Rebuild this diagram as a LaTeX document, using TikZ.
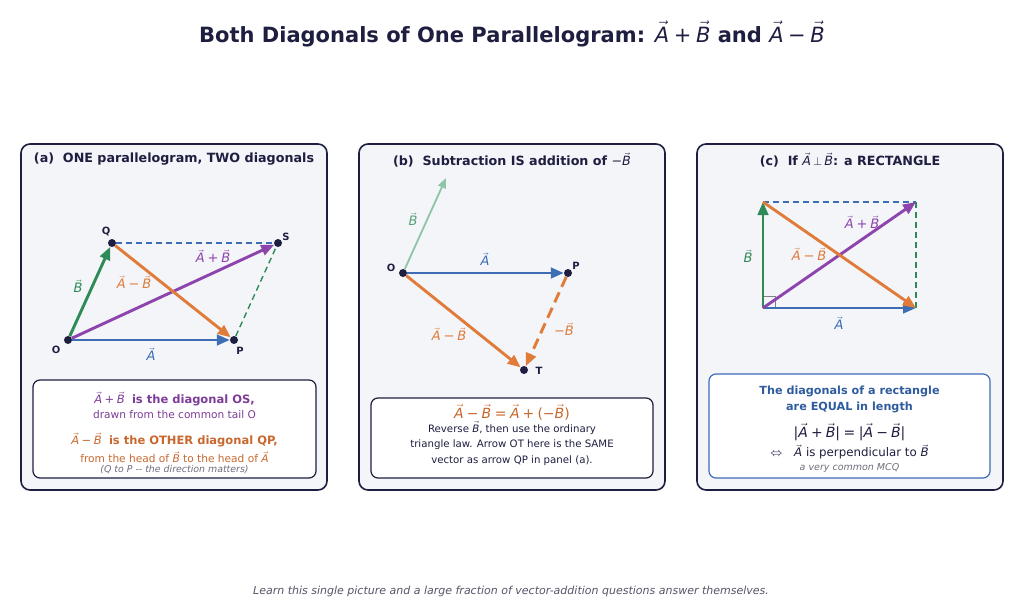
\documentclass[tikz,border=0pt]{standalone}
\usepackage{fontspec}
\setmainfont{DejaVu Sans}
\usetikzlibrary{arrows.meta}
\definecolor{navy}{HTML}{1E1E40}
\definecolor{vblue}{HTML}{3D6DB5}
\definecolor{vgreen}{HTML}{2E8B57}
\definecolor{lgreen}{HTML}{8FC4A6}
\definecolor{vpurple}{HTML}{8E44AD}
\definecolor{vorange}{HTML}{E07B39}
\definecolor{torange}{HTML}{C8682E}
\definecolor{tpurple}{HTML}{7D3C98}
\definecolor{tblue}{HTML}{2F5C9E}
\definecolor{panelbg}{HTML}{F3F5F9}
\definecolor{greytext}{HTML}{6E6E7E}
\definecolor{footgrey}{HTML}{55556A}
\newcommand{\VA}{\ensuremath{\vec{\mbox{\mdseries\itshape A}}}}
\newcommand{\VB}{\ensuremath{\vec{\mbox{\mdseries\itshape B}}}}
\newcommand{\pl}{\mbox{\mdseries\hspace{0.22em}+\hspace{0.22em}}}
\newcommand{\mi}{\mbox{\mdseries\hspace{0.22em}−\hspace{0.22em}}}
\newcommand{\eqs}{\mbox{\mdseries\hspace{0.25em}=\hspace{0.25em}}}
\newcommand{\fs}[1]{\fontsize{#1}{#1}\selectfont}
\tikzset{
  panel/.style={draw=navy, line width=1.6pt, rounded corners=9pt, fill=panelbg},
  infobox/.style={draw=navy, line width=1.2pt, rounded corners=7pt, fill=white},
  vecline/.style={line width=2.9pt, -{Triangle[length=13pt,width=10.5pt]}},
  thinvec/.style={line width=1.8pt, -{Triangle[length=10pt,width=8pt]}},
  dashline/.style={line width=1.4pt, dash pattern=on 6pt off 4pt},
  dot/.style={circle, fill=navy, inner sep=0pt, minimum size=8pt},
  ptlabel/.style={font=\bfseries\fs{10}, text=navy, inner sep=0pt},
  vlabel/.style={font=\fs{13}, inner sep=0pt},
  ptitle/.style={font=\bfseries\fs{12.7}, text=navy},
  boxtext/.style={align=center, inner sep=0pt},
}
\begin{document}
\begin{tikzpicture}[x=1pt,y=-1pt]
\useasboundingbox[fill=white] (0,0) rectangle (1024,615);
% title
\node[font=\bfseries\fs{21}, text=navy] (title) at (512,34) {Both Diagonals of One Parallelogram: \VA\pl\VB\ and \VA\mi\VB};
% panels
\draw[panel] (21,144) rectangle (327,490);
\draw[panel] (359,144) rectangle (665,490);
\draw[panel] (697,144) rectangle (1003,490);
\node[ptitle] (ta) at (174,159) {(a)\ \ ONE parallelogram, TWO diagonals};
\node[ptitle] (tb) at (512,160) {(b)\ \ Subtraction IS addition of \mbox{\mdseries−}\VB};
\node[ptitle] (tc) at (850,160) {(c)\ \ If \VA$\,\perp\,$\VB: a RECTANGLE};

% ---------- panel (a)
\node[dot] (aO) at (68,340) {};
\node[dot] (aP) at (234,340) {};
\node[dot] (aQ) at (112,243) {};
\node[dot] (aS) at (278,243) {};
\draw[dashline, vblue] (aQ) -- (aS);
\draw[dashline, vgreen] (aP) -- (aS);
\draw[vecline, vblue] (aO) -- (aP);
\draw[vecline, vgreen] (aO) -- (aQ);
\draw[vecline, vpurple] (aO) -- (aS);
\draw[vecline, vorange] (aQ) -- (aP);
\node[ptlabel] (laQ) at (106,232) {Q};
\node[ptlabel] (laS) at (286,237) {S};
\node[ptlabel] (laO) at (56,350) {O};
\node[ptlabel] (laP) at (240,351) {P};
\node[vlabel, text=vgreen] (abl) at (78,286) {\VB};
\node[vlabel, text=vorange] (aaml) at (134,282) {\VA\mi\VB};
\node[vlabel, text=vpurple] (aapl) at (213,256) {\VA\pl\VB};
\node[vlabel, text=vblue] (aal) at (151,354) {\VA};
\draw[infobox] (33,380) rectangle (316,478);
\node[boxtext, text=tpurple, font=\fs{11.5}] (a1) at (174.5,399) {\VA\pl\VB\ \ \textbf{is the diagonal OS,}};
\node[boxtext, text=tpurple, font=\fs{10.6}] (a2) at (174.5,415) {drawn from the common tail O};
\node[boxtext, text=torange, font=\fs{11.5}] (a3) at (174.5,440) {\VA\mi\VB\ \ \textbf{is the OTHER diagonal QP,}};
\node[boxtext, text=torange, font=\fs{10.6}] (a4) at (174.5,457) {from the head of \VB\ to the head of \VA};
\node[boxtext, text=greytext, font=\itshape\fs{9.4}] (a5) at (174.5,470) {(Q to P -{}- the direction matters)};

% ---------- panel (b)
\node[dot] (bO) at (403,273) {};
\node[dot] (bP) at (568,273) {};
\node[dot] (bT) at (524,370) {};
\coordinate (bBend) at (446,178);
\draw[thinvec, lgreen] (bO) -- (bBend);
\draw[vecline, vblue] (bO) -- (bP);
\draw[vecline, vorange] (bO) -- (bT);
\draw[vecline, vorange, dash pattern=on 11pt off 6pt] (bP) -- (bT);
\node[ptlabel] (lbO) at (391,268) {O};
\node[ptlabel] (lbP) at (576,266) {P};
\node[ptlabel] (lbT) at (539,371) {T};
\node[vlabel, text=vgreen!80!white] (bbl) at (413,219) {\VB};
\node[vlabel, text=vblue] (bal) at (485,259) {\VA};
\node[vlabel, text=vorange] (baml) at (449,334) {\VA\mi\VB};
\node[vlabel, text=vorange] (bnbl) at (564,329) {−\VB};
\draw[infobox] (371,398) rectangle (653,478);
\node[boxtext, text=torange, font=\fs{14}] (b1) at (512,412) {\VA\mi\VB\eqs\VA\pl(−\VB)};
\node[boxtext, text=navy, font=\fs{10.2}] (b2) at (512,428) {Reverse \VB, then use the ordinary};
\node[boxtext, text=navy, font=\fs{10.2}] (b3) at (512,445) {triangle law. Arrow OT here is the SAME};
\node[boxtext, text=navy, font=\fs{10.2}] (b4) at (512,461) {vector as arrow QP in panel (a).};

% ---------- panel (c)
\coordinate (cBL) at (763,308);
\coordinate (cTL) at (763,202);
\coordinate (cTR) at (916,202);
\coordinate (cBR) at (916,308);
\draw[dashline, vblue] (cTL) -- (cTR);
\draw[dashline, vgreen] (cBR) -- (cTR);
\draw[line width=0.9pt, gray] (763,296) -- (775,296) -- (775,308);
\draw[vecline, vblue] (cBL) -- (cBR);
\draw[vecline, vgreen] (cBL) -- (cTL);
\draw[vecline, vpurple] (cBL) -- (cTR);
\draw[vecline, vorange] (cTL) -- (cBR);
\node[vlabel, text=vgreen] (cbl) at (748,256) {\VB};
\node[vlabel, text=vorange] (caml) at (809,254) {\VA\mi\VB};
\node[vlabel, text=vpurple] (capl) at (862,222) {\VA\pl\VB};
\node[vlabel, text=vblue] (cal) at (839,323) {\VA};
\draw[infobox, draw=vblue] (709,374) rectangle (990,478);
\node[boxtext, text=tblue, font=\bfseries\fs{11.2}] (c1) at (849.5,391) {The diagonals of a rectangle};
\node[boxtext, text=tblue, font=\bfseries\fs{11.2}] (c2) at (849.5,407) {are EQUAL in length};
\node[boxtext, text=navy, font=\fs{14}] (c3) at (849.5,432) {|\VA\pl\VB|\eqs|\VA\mi\VB|};
\node[boxtext, text=navy, font=\fs{11.8}] (c4) at (849.5,452) {$\Leftrightarrow$\quad\VA\ is perpendicular to \VB};
\node[boxtext, text=greytext, font=\itshape\fs{9.5}] (c5) at (849.5,468) {a very common MCQ};

% footer
\node[font=\itshape\fs{11}, text=footgrey] (foot) at (511,591) {Learn this single picture and a large fraction of vector-addition questions answer themselves.};
\end{tikzpicture}
\end{document}
